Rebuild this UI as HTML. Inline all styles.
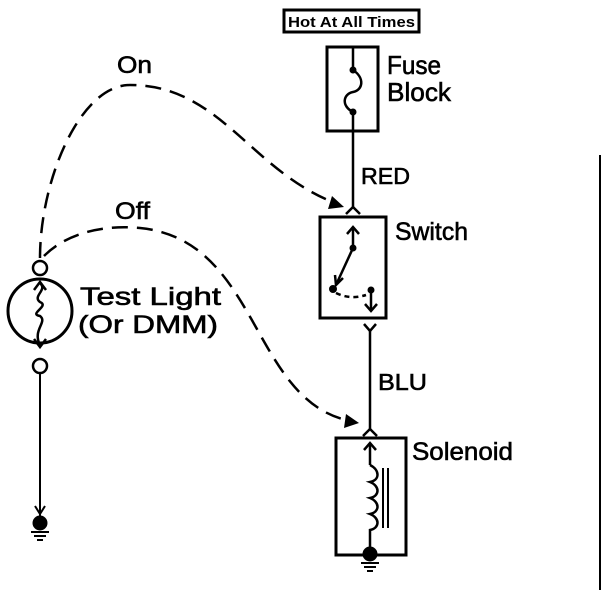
<!DOCTYPE html>
<html><head><style>body{margin:0;background:#fff}svg{display:block}text{font-family:"Liberation Sans",sans-serif;fill:#000;stroke:#000;stroke-width:0.6}</style></head><body>
<svg width="608" height="596" viewBox="0 0 608 596" xmlns="http://www.w3.org/2000/svg" fill="none" stroke="#000">
<rect x="284" y="10" width="135" height="22" stroke-width="3"/>
<text x="288" y="27" font-size="15" font-weight="bold" textLength="127" lengthAdjust="spacingAndGlyphs" style="stroke-width:0">Hot At All Times</text>
<rect x="327" y="47" width="51" height="84" stroke-width="3"/>
<line x1="353" y1="47" x2="353" y2="70" stroke-width="2.5"/>
<circle cx="353" cy="70" r="3" fill="#000"/>
<path d="M353 70 C365 78,363 90,353 92 C343 94,341 106,353 112" stroke-width="2.5"/>
<circle cx="353" cy="112" r="3" fill="#000"/>
<line x1="353" y1="112" x2="353" y2="208" stroke-width="2.5"/>
<text x="387" y="74" font-size="26" textLength="54" lengthAdjust="spacingAndGlyphs">Fuse</text>
<text x="387" y="101" font-size="26" textLength="64" lengthAdjust="spacingAndGlyphs">Block</text>
<text x="361" y="184" font-size="23" textLength="49" lengthAdjust="spacingAndGlyphs">RED</text>
<path d="M346 214 L353 207 L360 214" stroke-width="2.5"/>
<rect x="320" y="217" width="66" height="101" stroke-width="3"/>
<line x1="353" y1="227" x2="353" y2="248" stroke-width="2.5"/>
<path d="M347 234 L353 227 L359 234" stroke-width="2.5"/>
<circle cx="353" cy="248" r="3" fill="#000"/>
<line x1="353" y1="248" x2="336" y2="285" stroke-width="2.5"/>
<path d="M335 275 L336 285 L343 278" stroke-width="2.5"/>
<circle cx="333" cy="289" r="3.5" fill="#000"/>
<path d="M336 293 Q350 300,366 295" stroke-width="2.5" stroke-dasharray="5 4"/>
<circle cx="371" cy="290" r="3" fill="#000"/>
<line x1="371" y1="290" x2="371" y2="310" stroke-width="2.5"/>
<path d="M365 304 L371 311 L377 304" stroke-width="2.5"/>
<text x="395" y="240" font-size="25" textLength="73" lengthAdjust="spacingAndGlyphs">Switch</text>
<path d="M364 324 L370 331 L376 324" stroke-width="2.5"/>
<line x1="370" y1="331" x2="370" y2="430" stroke-width="2.5"/>
<text x="378" y="390" font-size="23" textLength="49" lengthAdjust="spacingAndGlyphs">BLU</text>
<path d="M363 436 L370 429 L377 436" stroke-width="2.5"/>
<rect x="336" y="438" width="70" height="117" stroke-width="3"/>
<line x1="370" y1="443" x2="370" y2="465" stroke-width="2.5"/>
<path d="M364 450 L370 443 L376 450" stroke-width="2.5"/>
<path d="M370 465 C380 470,380 480,370 482 C380 486,380 496,370 498 C380 502,380 512,370 514 C380 518,380 528,370 530 L370 550" stroke-width="2.5"/>
<line x1="383" y1="468" x2="383" y2="528" stroke-width="2"/>
<line x1="388" y1="468" x2="388" y2="528" stroke-width="2"/>
<circle cx="370" cy="554" r="7" fill="#000"/>
<line x1="361" y1="563" x2="379" y2="563" stroke-width="2"/><line x1="364" y1="567" x2="376" y2="567" stroke-width="2"/><line x1="367" y1="571" x2="373" y2="571" stroke-width="2"/>
<text x="412" y="460" font-size="25" textLength="101" lengthAdjust="spacingAndGlyphs">Solenoid</text>
<line x1="600" y1="155" x2="600" y2="590" stroke-width="2"/>
<circle cx="40" cy="268" r="7" stroke-width="2.5"/>
<circle cx="40" cy="311" r="32" stroke-width="3"/>
<circle cx="40" cy="366" r="7" stroke-width="2.5"/>
<path d="M40 283 C48 290,32 296,40 302 C50 306,28 314,40 316 C48 322,32 330,40 345" stroke-width="2.5"/>
<path d="M34 290 L40 282 L46 290" stroke-width="2.5"/>
<path d="M34 339 L40 347 L46 339" stroke-width="2.5"/>
<line x1="40" y1="373" x2="40" y2="518" stroke-width="2"/>
<path d="M35 506 L40 514 L45 506" stroke-width="2"/>
<circle cx="40" cy="523" r="7" fill="#000"/>
<line x1="31" y1="532" x2="49" y2="532" stroke-width="2"/><line x1="34" y1="536" x2="46" y2="536" stroke-width="2"/><line x1="37" y1="540" x2="43" y2="540" stroke-width="2"/>
<text x="80" y="305" font-size="25" textLength="141" lengthAdjust="spacingAndGlyphs">Test Light</text>
<text x="78" y="333" font-size="25" textLength="140" lengthAdjust="spacingAndGlyphs">(Or DMM)</text>
<path d="M40 258 C40 180,80 85,130 85 C220 85,250 170,335 203" stroke-width="2.5" stroke-dasharray="16 9"/>
<path d="M332 196 L344 207 L328 209 Z" fill="#000" stroke="none"/>
<path d="M44 256 C70 230,110 225,140 228 C260 240,250 400,350 421" stroke-width="2.5" stroke-dasharray="16 9"/>
<path d="M346 414 L359 423 L344 428 Z" fill="#000" stroke="none"/>
<text x="117" y="73" font-size="24" textLength="35" lengthAdjust="spacingAndGlyphs">On</text>
<text x="115" y="219" font-size="24" textLength="35" lengthAdjust="spacingAndGlyphs">Off</text>
</svg></body></html>
